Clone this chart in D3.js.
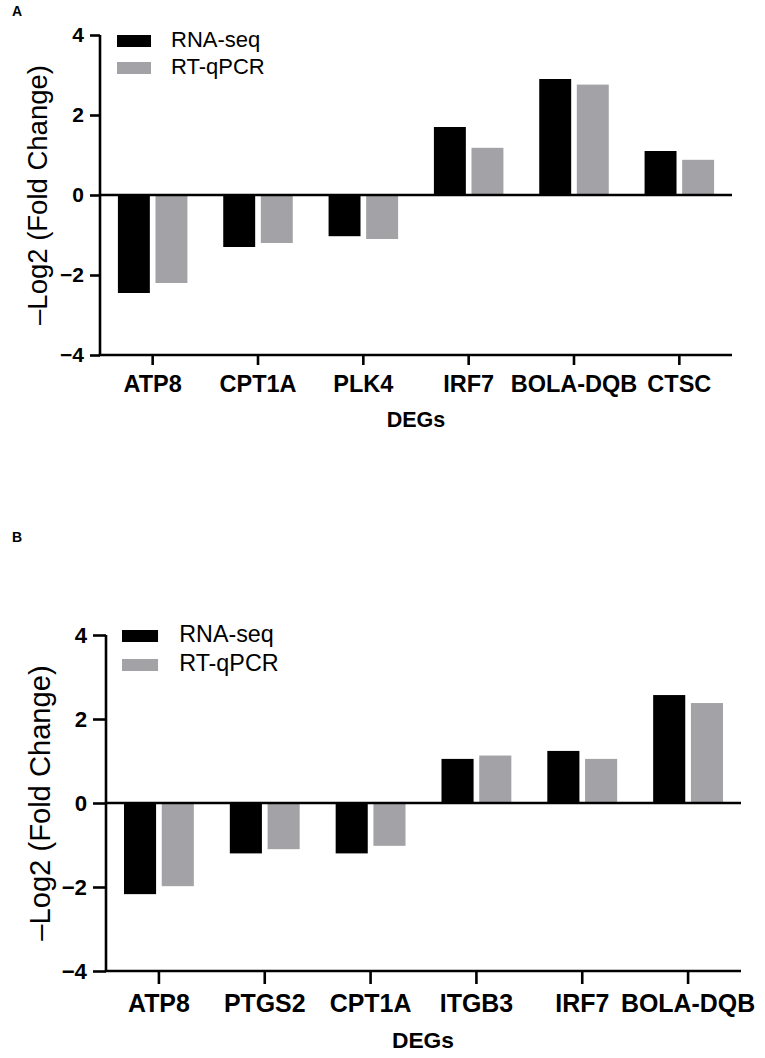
<!DOCTYPE html>
<html lang="en">
  <head>
    <meta charset="utf-8">
    <style>
      body { margin: 0; background: #fff; }
      svg text { font-family: "Liberation Sans", Arial, Helvetica, sans-serif; }
    </style>
  </head>
  <body>
    <div id="viz"></div>
    <script src="https://cdnjs.cloudflare.com/ajax/libs/d3/7.8.5/d3.min.js"></script>
<script type="text/javascript">

var w = 765, h = 1058;

// panel A
var genesA = ["ATP8", "CPT1A", "PLK4", "IRF7", "BOLA-DQB", "CTSC"];
var rnaseqA = [-2.45, -1.3, -1.03, 1.7, 2.9, 1.1];
var qpcrA = [-2.2, -1.2, -1.1, 1.18, 2.76, 0.88];

// panel B
var genesB = ["ATP8", "PTGS2", "CPT1A", "ITGB3", "IRF7", "BOLA-DQB"];
var rnaseqB = [-2.17, -1.2, -1.2, 1.05, 1.24, 2.57];
var qpcrB = [-1.98, -1.1, -1.02, 1.13, 1.05, 2.38];

var seriesNames = ["RNA-seq", "RT-qPCR"];
var seriesColors = ["#000000", "#a3a3a7"];
var yTicks = [-4, -2, 0, 2, 4];

var svg = d3.select("#viz")
        .append("svg")
        .attr("width", w)
        .attr("height", h);

function drawPanel(p){
  var g = svg.append("g");
  var k = p.k;

  var x0 = d3.scaleBand().domain(p.genes).range([p.left, p.right]).padding(0);
  var bw = x0.bandwidth();
  var x1 = d3.scaleBand().domain(seriesNames)
    .range([bw * 0.17, bw * 0.83]).paddingInner(0.15);
  var y = d3.scaleLinear().domain([-4, 4]).range([p.bottom, p.top]);

  var rows = p.genes.map((d, i)=>{
    return {gene: d, vals: [p.s1[i], p.s2[i]]};
  });

  // bars
  g.selectAll(".grp")
    .data(rows)
    .enter().append("g")
    .attr("class", "grp")
    .attr("transform", (d)=>{ return "translate(" + x0(d.gene) + ",0)"; })
    .selectAll("rect")
    .data((d)=>{ return d.vals.map((v, j)=>{ return {s: seriesNames[j], v: v, j: j}; }); })
    .enter().append("rect")
    .attr("x", (d)=>{ return x1(d.s); })
    .attr("width", x1.bandwidth())
    .attr("y", (d)=>{ return d.v > 0 ? y(d.v) : y(0) + 1; })
    .attr("height", (d)=>{ return Math.abs(y(d.v) - y(0)) - 1; })
    .style("fill", (d)=>{ return seriesColors[d.j]; });

  // zero line
  g.append("line")
    .attr("x1", p.left).attr("x2", p.right)
    .attr("y1", y(0)).attr("y2", y(0))
    .style("stroke", "#000").style("stroke-width", 2.6);

  // y axis
  var ya = g.append("g")
    .attr("transform", "translate(" + p.left + ",0)")
    .call(d3.axisLeft(y).tickValues(yTicks).tickSizeOuter(0).tickSize(p.tick).tickPadding(6));
  ya.select(".domain").style("stroke-width", 2.6).attr("d", "M0," + p.bottom + "V" + p.top);
  ya.selectAll(".tick line").style("stroke-width", 2.6);
  ya.selectAll(".tick text")
    .style("font-size", (21 * k) + "px")
    .style("font-weight", "bold")
    .style("font-family", "'Liberation Sans', Arial, sans-serif")
    .attr("fill", "#000");

  // x axis
  var xa = g.append("g")
    .attr("transform", "translate(0," + p.bottom + ")")
    .call(d3.axisBottom(x0).tickSizeOuter(0).tickSize(p.tick).tickPadding(10 * k));
  xa.select(".domain").style("stroke-width", 2.6)
    .attr("d", "M" + (p.left - 1.3) + ",0H" + p.right);
  xa.selectAll(".tick line").style("stroke-width", 2.6);
  xa.selectAll(".tick text")
    .style("font-size", (23.5 * k) + "px")
    .style("font-weight", "bold")
    .style("font-family", "'Liberation Sans', Arial, sans-serif")
    .attr("fill", "#000");

  // axis titles
  g.append("text")
    .attr("transform", "translate(" + p.ylabX + "," + y(0) + ") rotate(-90)")
    .attr("text-anchor", "middle")
    .attr("dominant-baseline", "middle")
    .style("font-size", (27.5 * k) + "px")
    .text("\u2013Log2 (Fold Change)");

  g.append("text")
    .attr("x", p.xlabX)
    .attr("y", p.xlabY)
    .attr("text-anchor", "middle")
    .style("font-size", (21.5 * k) + "px")
    .style("font-weight", "bold")
    .text("DEGs");

  // legend
  var lg = g.selectAll(".leg")
    .data(seriesNames)
    .enter().append("g")
    .attr("class", "leg")
    .attr("transform", (d, i)=>{ return "translate(" + p.legX + "," + (p.legY + i * p.legStep) + ")"; });
  lg.append("rect")
    .attr("width", 34 * k).attr("height", 12)
    .style("fill", (d, i)=>{ return seriesColors[i]; });
  lg.append("text")
    .attr("x", 54 * k)
    .attr("y", 6)
    .attr("dominant-baseline", "middle")
    .style("font-size", (22 * k) + "px")
    .text((d)=>{ return d; });

  // panel letter
  g.append("text")
    .attr("x", 12).attr("y", p.letterY)
    .style("font-size", "14px")
    .style("font-weight", "bold")
    .text(p.letter);
}

drawPanel({ genes: genesA, s1: rnaseqA, s2: qpcrA, k: 1,
  left: 100, right: 732, top: 35, bottom: 355, tick: 10,
  ylabX: 40, xlabX: 416, xlabY: 427,
  legX: 117, legY: 35, legStep: 27, letter: "A", letterY: 16 });

drawPanel({ genes: genesB, s1: rnaseqB, s2: qpcrB, k: 1.06,
  left: 106, right: 741, top: 635, bottom: 971, tick: 13,
  ylabX: 42, xlabX: 423, xlabY: 1048,
  legX: 122, legY: 630, legStep: 29, letter: "B", letterY: 542 });

</script>
  </body>
</html>
